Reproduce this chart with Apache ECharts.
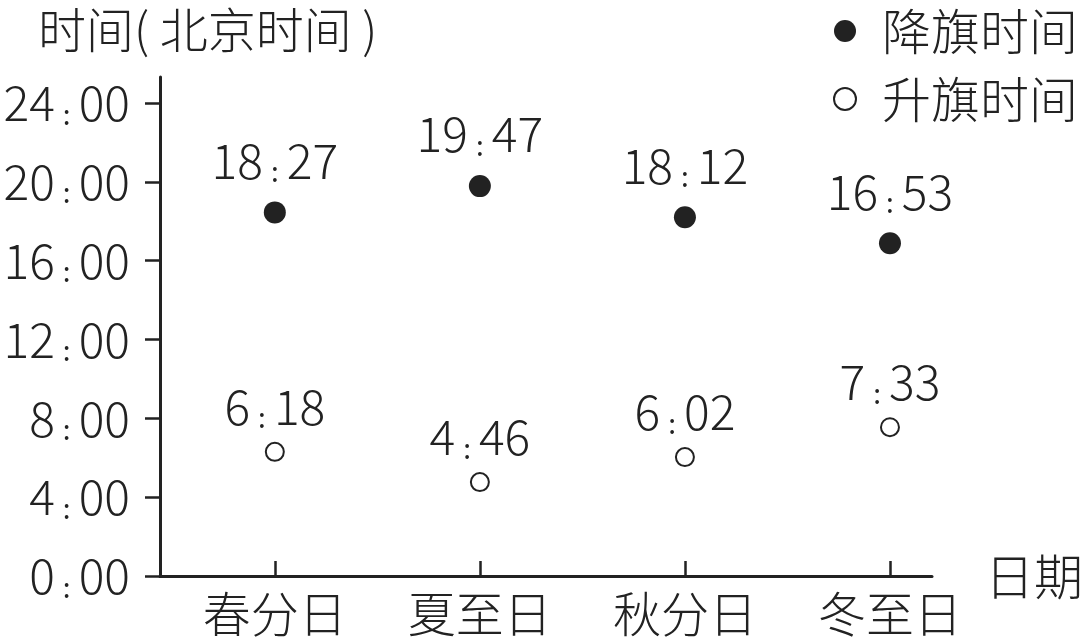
<!DOCTYPE html>
<html><head><meta charset="utf-8">
<script src="https://cdn.jsdelivr.net/npm/echarts@6/dist/echarts.min.js"></script>
<style>html,body{margin:0;background:#fff}#c{width:1080px;height:640px}</style>
</head><body><div id="c"></div>
<script>
const categories = ['春分日', '夏至日', '秋分日', '冬至日'];
const lowerTimes = ['18:27', '19:47', '18:12', '16:53']; // 降旗时间
const raiseTimes = ['6:18', '4:46', '6:02', '7:33'];     // 升旗时间
const yTicks = [0, 4, 8, 12, 16, 20, 24];
const yTickLabels = ['0:00', '4:00', '8:00', '12:00', '16:00', '20:00', '24:00'];
const xTicks = [1, 2, 3, 4];

const FONT = '"Noto Sans CJK SC", "Noto Sans", sans-serif';
const INK = '#222';
const W = 300;

function toHours(s) { const p = s.split(':'); return +p[0] + (+p[1]) / 60; }
function richTime(s) { const p = s.split(':'); return '{n|' + p[0] + '}{c|:}{n|' + p[1] + '}'; }
const timeRich = {
  n: { fontSize: 48, fontFamily: FONT, fontWeight: W, color: INK, lineHeight: 50 },
  c: { fontSize: 28, fontFamily: FONT, fontWeight: 'normal', color: INK, lineHeight: 16, padding: [22, 8, 0, 8] }
};

const lowerData = lowerTimes.map((t, i) => [xTicks[i], toHours(t)]);
const raiseData = raiseTimes.map((t, i) => [xTicks[i], toHours(t)]);

const chart = echarts.init(document.getElementById('c'), null, { renderer: 'canvas' });
chart.setOption({
  backgroundColor: '#fff',
  animation: false,
  title: {
    text: '时间( 北京时间 )', left: 33, top: 0,
    textStyle: { fontSize: 48, fontWeight: W, color: INK, fontFamily: FONT, lineHeight: 50 }
  },
  legend: {
    orient: 'vertical', left: 833, top: 6, padding: 0, selectedMode: false,
    itemWidth: 64, itemHeight: 22, itemGap: 18,
    textStyle: { fontSize: 49, fontWeight: W, color: INK, fontFamily: FONT, lineHeight: 50 },
    data: ['降旗时间', '升旗时间']
  },
  grid: { left: 160, right: 148, top: 77, bottom: 64, containLabel: false, outerBoundsMode: 'none' },
  xAxis: {
    type: 'value', min: 0.44, max: 4.205,
    name: '日期', nameLocation: 'end', nameGap: 53,
    nameTextStyle: { fontSize: 49, fontWeight: W, color: INK, fontFamily: FONT, verticalAlign: 'middle' },
    axisLine: { show: true, lineStyle: { color: INK, width: 3 } },
    axisTick: { show: true, inside: true, length: 15, customValues: xTicks, lineStyle: { color: INK, width: 2.5 } },
    axisLabel: {
      customValues: xTicks, margin: 14,
      formatter: v => categories[Math.round(v) - 1],
      fontSize: 48, fontWeight: W, color: INK, fontFamily: FONT
    },
    splitLine: { show: false }
  },
  yAxis: {
    type: 'value', min: 0, max: 25.32,
    axisLine: { show: true, lineStyle: { color: INK, width: 3 } },
    axisTick: { show: true, length: 15, customValues: yTicks, lineStyle: { color: INK, width: 2.5 } },
    axisLabel: {
      customValues: yTicks, margin: 30,
      formatter: v => richTime(yTickLabels[yTicks.indexOf(Math.round(v))]),
      rich: timeRich
    },
    splitLine: { show: false }
  },
  series: [
    {
      name: '降旗时间', type: 'scatter', data: lowerData,
      symbol: 'circle', symbolSize: 22,
      itemStyle: { color: INK, opacity: 1 },
      label: {
        show: true, position: 'top', distance: 16,
        formatter: p => richTime(lowerTimes[p.dataIndex]), rich: timeRich
      }
    },
    {
      name: '升旗时间', type: 'scatter', data: raiseData,
      symbol: 'emptyCircle', symbolSize: 18,
      itemStyle: { color: INK, borderColor: INK, borderWidth: 2.5, opacity: 1 },
      label: {
        show: true, position: 'top', distance: 10,
        formatter: p => richTime(raiseTimes[p.dataIndex]), rich: timeRich
      }
    }
  ]
});
</script>
</body></html>
